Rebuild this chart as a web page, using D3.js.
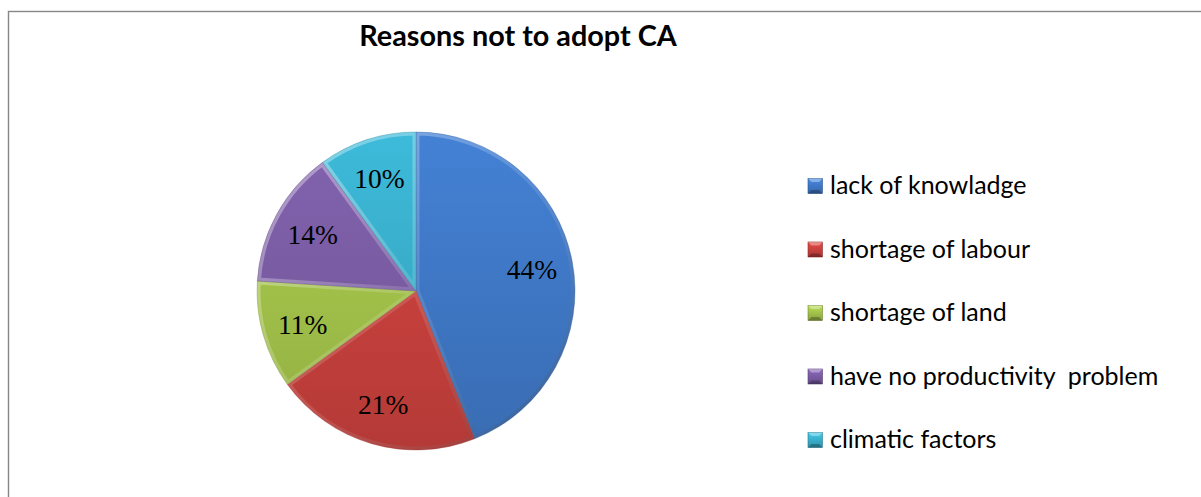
<!DOCTYPE html>
<html>
<head>
<meta charset="utf-8">
<script src="https://cdn.jsdelivr.net/npm/d3@7"></script>
<style>
  html, body { margin: 0; padding: 0; background: #fff; }
  svg { display: block; }
</style>
</head>
<body>
<svg id="chart" width="1201" height="497"></svg>
<script>
// Survey answers: reasons farmers gave for not adopting conservation agriculture
const categories = [
  "lack of knowladge",
  "shortage of labour",
  "shortage of land",
  "have no productivity  problem",
  "climatic factors"
];
const values = [44, 21, 11, 14, 10];
const colors = ["#3f78c6", "#c8413d", "#a2c24a", "#7a5ca4", "#39aecb"];
const title = "Reasons not to adopt CA";

const W = 1201, H = 497;
const cx = 416, cy = 291, R = 159;

const svg = d3.select("#chart");
const defs = svg.append("defs");

// chart-area frame (runs past the right and bottom edges)
svg.append("rect")
  .attr("x", 8.5).attr("y", 11.5)
  .attr("width", 1400).attr("height", 700)
  .attr("fill", "none")
  .attr("stroke", "#878787")
  .attr("stroke-width", 1.4);

svg.append("text")
  .attr("x", 518).attr("y", 46)
  .attr("text-anchor", "middle")
  .style("font-family", "Lato, 'Open Sans', sans-serif")
  .style("font-weight", 700)
  .style("font-size", "28.8px")
  .attr("fill", "#000")
  .text(title);

const color = d3.scaleOrdinal().domain(categories).range(colors);

const data = categories.map((c, i) => ({ name: c, value: values[i] }));
const pie = d3.pie().sort(null).value(d => d.value);
const arcs = pie(data);
const arc = d3.arc().innerRadius(0).outerRadius(R);
const labelArc = d3.arc().innerRadius(118).outerRadius(118);

// per-slice gradients: lighter toward the top, darker toward the bottom
arcs.forEach((a, i) => {
  const base = d3.color(color(a.data.name));
  const g = defs.append("linearGradient")
    .attr("id", "fill" + i)
    .attr("gradientUnits", "userSpaceOnUse")
    .attr("x1", 0).attr("y1", -R).attr("x2", 0).attr("y2", R);
  g.append("stop").attr("offset", "0%").attr("stop-color", base.brighter(0.2));
  g.append("stop").attr("offset", "100%").attr("stop-color", base.darker(0.3));
  defs.append("clipPath").attr("id", "clip" + i)
    .append("path").attr("d", arc(a));
});

// bevel band: light on the upper-left edges, dark on the lower-right edges
const bevel = defs.append("linearGradient")
  .attr("id", "bevel")
  .attr("gradientUnits", "userSpaceOnUse")
  .attr("x1", -R).attr("y1", -R).attr("x2", R).attr("y2", R);
bevel.append("stop").attr("offset", "0%").attr("stop-color", "#fff").attr("stop-opacity", 0.45);
bevel.append("stop").attr("offset", "50%").attr("stop-color", "#fff").attr("stop-opacity", 0.12);
bevel.append("stop").attr("offset", "100%").attr("stop-color", "#000").attr("stop-opacity", 0.22);

const g = svg.append("g").attr("transform", `translate(${cx},${cy})`);

const slices = g.selectAll("g.slice").data(arcs).join("g").attr("class", "slice");
slices.append("path")
  .attr("d", arc)
  .attr("fill", (d, i) => `url(#fill${i})`);
slices.append("path")
  .attr("d", arc)
  .attr("fill", "none")
  .attr("stroke", "url(#bevel)")
  .attr("stroke-width", 7)
  .attr("clip-path", (d, i) => `url(#clip${i})`);
slices.append("path")
  .attr("d", arc)
  .attr("fill", "none")
  .attr("stroke", (d) => d3.color(color(d.data.name)).darker(0.8))
  .attr("stroke-opacity", 0.5)
  .attr("stroke-width", 0.7);

g.selectAll("text.val").data(arcs).join("text")
  .attr("class", "val")
  .attr("transform", d => `translate(${labelArc.centroid(d)})`)
  .attr("text-anchor", "middle")
  .attr("dy", "0.35em")
  .style("font-family", "'Liberation Serif', 'Times New Roman', serif")
  .style("font-size", "27.5px")
  .attr("fill", "#000")
  .text(d => d.data.value + "%");

// legend
const legY = d3.scalePoint().domain(categories).range([186, 440]);
const leg = svg.append("g");
const items = leg.selectAll("g").data(categories).join("g")
  .attr("transform", d => `translate(808,${legY(d)})`);

categories.forEach((c, i) => {
  const base = d3.color(color(c));
  const lg = defs.append("linearGradient").attr("id", "mk" + i)
    .attr("x1", 0).attr("y1", 0).attr("x2", 0).attr("y2", 1);
  lg.append("stop").attr("offset", "0%").attr("stop-color", base.brighter(0.4));
  lg.append("stop").attr("offset", "100%").attr("stop-color", base.darker(0.5));
});
items.append("rect")
  .attr("x", 0).attr("y", -7.5)
  .attr("width", 14.5).attr("height", 15)
  .attr("fill", (d, i) => `url(#mk${i})`)
  .attr("stroke", d => d3.color(color(d)).darker(1))
  .attr("stroke-width", 0.6);
// pyramid bevel on the markers: bright top facet, dark bottom facet
items.append("path")
  .attr("d", "M0,-7.5 L14.5,-7.5 L11,-4 L3.5,-4 Z")
  .attr("fill", "#fff").attr("fill-opacity", 0.35);
items.append("path")
  .attr("d", "M0,7.5 L14.5,7.5 L11,4 L3.5,4 Z")
  .attr("fill", "#000").attr("fill-opacity", 0.25);

items.append("text")
  .attr("x", 22).attr("y", 8)
  .style("font-family", "Lato, 'Open Sans', sans-serif")
  .style("font-size", "25px")
  .style("white-space", "pre")
  .attr("xml:space", "preserve")
  .attr("fill", "#000")
  .text(d => d);
</script>
</body>
</html>
